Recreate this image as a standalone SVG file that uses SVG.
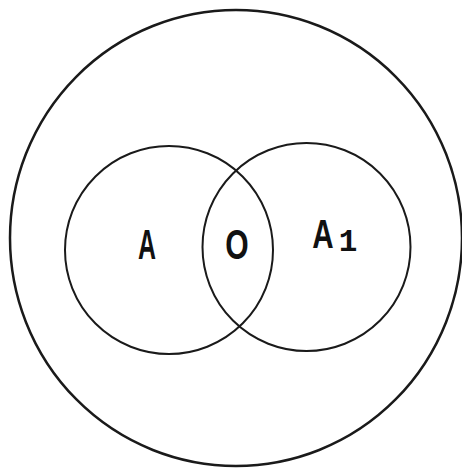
<svg xmlns="http://www.w3.org/2000/svg" width="462" height="468" viewBox="0 0 462 468">
<style>
.c{fill:none;stroke:#1a1a1a}
.t{font-family:"Liberation Sans","DejaVu Sans",sans-serif;font-weight:bold;fill:#111;text-anchor:middle}
.m{font-family:"Liberation Mono","DejaVu Sans Mono",monospace;font-weight:bold;fill:#111;text-anchor:middle}
</style>
<rect width="462" height="468" fill="#fff"/>
<g id="universe"><ellipse class="c" cx="236" cy="238" rx="226" ry="228" stroke-width="2.5"/></g>
<g id="setA"><circle class="c" cx="169" cy="250" r="104" stroke-width="2"/><text class="t" transform="translate(147,259) scale(0.58,1)" font-size="43">A</text></g>
<g id="setA1"><circle class="c" cx="306.5" cy="247" r="104" stroke-width="2"/><text class="t" transform="translate(323,248) scale(0.74,1)" font-size="40">A</text><text class="m" x="348" y="251" font-size="31">1</text></g>
<g id="intersection"><text class="t" transform="translate(237,259) scale(0.7,1)" font-size="43">O</text></g>
</svg>
